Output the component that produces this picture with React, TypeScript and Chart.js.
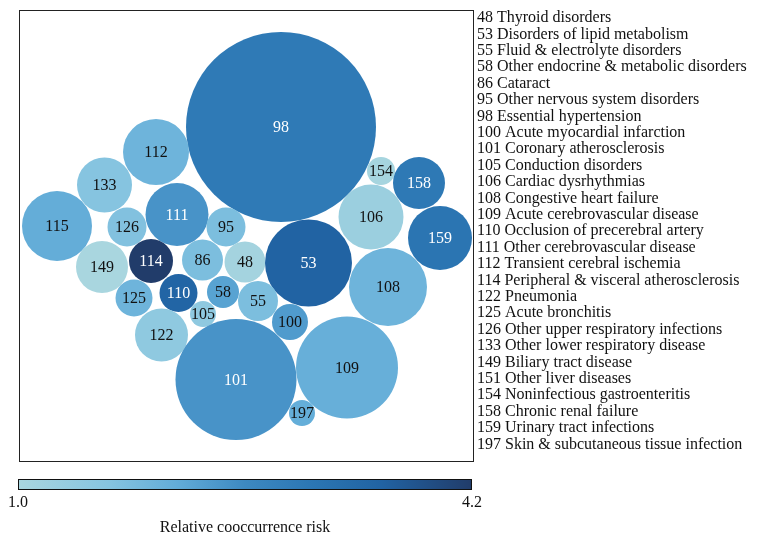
import React, { useEffect, useRef } from "react";
import { Chart, registerables } from "chart.js";

Chart.register(...registerables);

// Bubble ids (CCS categories)
const bubbleIds = [98, 112, 133, 154, 158, 115, 126, 111, 95, 106, 159, 149, 114, 86, 48, 53, 108, 125, 110, 58, 55, 105, 100, 122, 101, 109, 197];
// Packed-layout coordinates (layout units)
const bubbleX = [262, 137, 85.5, 362, 400, 38, 108, 158, 207, 352, 421, 83, 132, 183.5, 226, 289.5, 369, 115, 159.5, 204, 239, 184, 271, 142.5, 217, 328, 283];
const bubbleY = [117, 142, 175, 161, 173, 216, 217, 204.5, 217, 207, 228, 257, 251, 250, 252, 253, 277, 288, 283, 282, 291, 304, 312, 325, 369.5, 357.5, 403];
// Bubble size (radius)
const bubbleR = [95, 33, 27.5, 14, 26, 35, 19.5, 31.5, 19.5, 32.5, 32, 26, 22, 20.5, 20.5, 43.5, 39, 18.5, 19, 16, 20, 13, 18, 26.5, 60.5, 51, 13];
// Relative cooccurrence risk
const bubbleRisk = [2.98, 1.96, 1.64, 1.05, 3.0, 2.1, 1.7, 2.46, 1.77, 1.26, 3.1, 1.0, 4.2, 1.77, 1.1, 3.56, 1.96, 1.96, 3.5, 2.25, 1.77, 1.48, 2.35, 1.48, 2.46, 2.06, 2.09];

const legendCodes = [48, 53, 55, 58, 86, 95, 98, 100, 101, 105, 106, 108, 109, 110, 111, 112, 114, 122, 125, 126, 133, 149, 151, 154, 158, 159, 197];
const legendNames = [
  "Thyroid disorders",
  "Disorders of lipid metabolism",
  "Fluid & electrolyte disorders",
  "Other endocrine & metabolic disorders",
  "Cataract",
  "Other nervous system disorders",
  "Essential hypertension",
  "Acute myocardial infarction",
  "Coronary atherosclerosis",
  "Conduction disorders",
  "Cardiac dysrhythmias",
  "Congestive heart failure",
  "Acute cerebrovascular disease",
  "Occlusion of precerebral artery",
  "Other cerebrovascular disease",
  "Transient cerebral ischemia",
  "Peripheral & visceral atherosclerosis",
  "Pneumonia",
  "Acute bronchitis",
  "Other upper respiratory infections",
  "Other lower respiratory disease",
  "Biliary tract disease",
  "Other liver diseases",
  "Noninfectious gastroenteritis",
  "Chronic renal failure",
  "Urinary tract infections",
  "Skin & subcutaneous tissue infection",
];

const riskMin = 1.0;
const riskMax = 4.2;
const riskTickLabels = ["1.0", "4.2"];
const colorbarTitle = "Relative cooccurrence risk";

const cmapStops: [number, string][] = [
  [0.0, "#a9d6df"],
  [0.2, "#86c4e0"],
  [0.35, "#62acd8"],
  [0.5, "#3d89c1"],
  [0.65, "#2b76b3"],
  [0.8, "#2163a3"],
  [1.0, "#213c6a"],
];

function hexToRgb(h: string) {
  return [parseInt(h.slice(1, 3), 16), parseInt(h.slice(3, 5), 16), parseInt(h.slice(5, 7), 16)];
}
function cmap(t: number) {
  t = Math.max(0, Math.min(1, t));
  for (let i = 0; i < cmapStops.length - 1; i++) {
    const [a, ca] = cmapStops[i];
    const [b, cb] = cmapStops[i + 1];
    if (t <= b) {
      const f = (t - a) / (b - a);
      const A = hexToRgb(ca), B = hexToRgb(cb);
      const c = A.map((v, k) => Math.round(v + (B[k] - v) * f));
      return `rgb(${c[0]},${c[1]},${c[2]})`;
    }
  }
  return cmapStops[cmapStops.length - 1][1];
}

const FONT = "'Liberation Serif', 'DejaVu Serif', serif";

export default function App() {
  const ref = useRef<HTMLCanvasElement | null>(null);
  useEffect(() => {
    if (!ref.current) return;
    const colors = bubbleRisk.map((v) => cmap((v - riskMin) / (riskMax - riskMin)));
    const overlay = {
      id: "overlay",
      afterDatasetsDraw(chart: any) {
        const ctx = chart.ctx;
        const meta = chart.getDatasetMeta(0);
        ctx.save();
        ctx.font = `16px ${FONT}`;
        ctx.textAlign = "center";
        ctx.textBaseline = "middle";
        meta.data.forEach((el: any, i: number) => {
          ctx.fillStyle = bubbleRisk[i] > 2.4 ? "#ffffff" : "#111111";
          ctx.fillText(String(bubbleIds[i]), el.x, el.y + 1);
        });
        ctx.restore();
      },
      afterDraw(chart: any) {
        const ctx = chart.ctx;
        const a = chart.chartArea;
        ctx.save();
        // frame
        ctx.strokeStyle = "#222";
        ctx.lineWidth = 1;
        ctx.strokeRect(a.left + 0.5, a.top + 0.5, a.right - a.left, a.bottom - a.top);
        // legend
        ctx.fillStyle = "#111";
        ctx.font = `16px ${FONT}`;
        ctx.textAlign = "left";
        ctx.textBaseline = "middle";
        legendCodes.forEach((c, i) => {
          ctx.fillText(`${c} ${legendNames[i]}`, a.right + 4, a.top + 8 + i * 16.4);
        });
        // colorbar
        const cx0 = a.left - 1, cx1 = a.right - 1, cy0 = a.bottom + 18, ch = 10;
        const g = ctx.createLinearGradient(cx0, 0, cx1, 0);
        cmapStops.forEach(([t, c]) => g.addColorStop(t, c));
        ctx.fillStyle = g;
        ctx.fillRect(cx0, cy0, cx1 - cx0, ch);
        ctx.strokeStyle = "#111";
        ctx.strokeRect(cx0 + 0.5, cy0 + 0.5, cx1 - cx0 - 1, ch);
        ctx.fillStyle = "#111";
        ctx.textAlign = "center";
        ctx.fillText(riskTickLabels[0], cx0, cy0 + 24);
        ctx.fillText(riskTickLabels[1], cx1, cy0 + 24);
        // title, clipped at bottom like the reference
        ctx.beginPath();
        ctx.rect(0, 0, chart.width, 533);
        ctx.clip();
        ctx.fillText(colorbarTitle, (cx0 + cx1) / 2, cy0 + 49);
        ctx.restore();
      },
    };
    const chart = new Chart(ref.current, {
      type: "bubble",
      data: {
        datasets: [
          {
            data: bubbleIds.map((_, i) => ({ x: bubbleX[i], y: bubbleY[i], r: bubbleR[i] })),
            backgroundColor: colors,
            hoverBackgroundColor: colors,
            borderWidth: 0,
            hoverBorderWidth: 0,
            hoverRadius: 0,
            clip: false,
          },
        ],
      },
      options: {
        responsive: false,
        devicePixelRatio: 1,
        animation: false,
        layout: { autoPadding: false, padding: { left: 19, right: 296, top: 10, bottom: 81 } },
        scales: {
          x: { type: "linear", min: 0, max: 454, display: false },
          y: { type: "linear", min: 0, max: 451, reverse: true, display: false },
        },
        plugins: { legend: { display: false }, tooltip: { enabled: false } },
        events: [],
      },
      plugins: [overlay],
    });
    return () => chart.destroy();
  }, []);
  return (
    <div style={{ position: "fixed", left: 0, top: 0, width: 769, height: 542, background: "#fff" }}>
      <canvas ref={ref} width={769} height={542} style={{ display: "block" }} />
    </div>
  );
}
